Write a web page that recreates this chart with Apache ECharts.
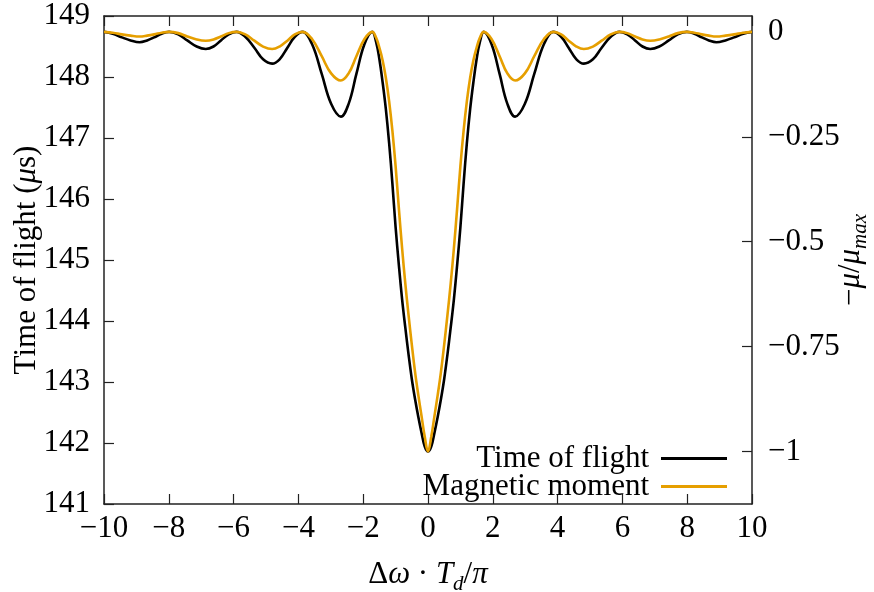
<!DOCTYPE html>
<html><head><meta charset="utf-8">
<script src="https://cdn.jsdelivr.net/npm/echarts@6/dist/echarts.min.js"></script>
<style>html,body{margin:0;padding:0;background:#fff}#c{width:874px;height:592px}</style>
</head><body><div id="c"></div>
<script>
const xValues = [-10, -9.73, -9.45, -9.18, -8.9, -8.67, -8.45, -8.22, -7.99, -7.71, -7.43, -7.14, -6.86, -6.62, -6.39, -6.15, -5.91, -5.64, -5.36, -5.09, -4.81, -4.58, -4.34, -4.11, -3.87, -3.58, -3.28, -2.99, -2.69, -2.45, -2.21, -1.96, -1.72, -1.6, -1.5, -1.4, -1.3, -1.2, -1.1, -1, -0.9, -0.8, -0.7, -0.6, -0.5, -0.4, -0.3, -0.2, -0.1,
  0,
  0.1, 0.2, 0.3, 0.4, 0.5, 0.6, 0.7, 0.8, 0.9, 1, 1.1, 1.2, 1.3, 1.4, 1.5, 1.6, 1.72, 1.96, 2.21, 2.45, 2.69, 2.99, 3.28, 3.58, 3.87, 4.11, 4.34, 4.58, 4.81, 5.09, 5.36, 5.64, 5.91, 6.15, 6.39, 6.62, 6.86, 7.14, 7.43, 7.71, 7.99, 8.22, 8.45, 8.67, 8.9, 9.18, 9.45, 9.73, 10];

const timeOfFlight = [148.74, 148.71, 148.65, 148.60, 148.57, 148.60, 148.65, 148.71, 148.74, 148.70, 148.60, 148.50, 148.46, 148.50, 148.60, 148.70, 148.74, 148.66, 148.48, 148.29, 148.22, 148.29, 148.48, 148.66, 148.74, 148.54, 148.05, 147.56, 147.35, 147.56, 148.05, 148.54, 148.74, 148.57, 148.29, 147.91, 147.47, 146.92, 146.26, 145.54, 144.92, 144.36, 143.89, 143.45, 143.05, 142.72, 142.43, 142.17, 141.94,
  141.86,
  141.94, 142.17, 142.43, 142.72, 143.05, 143.45, 143.89, 144.36, 144.92, 145.54, 146.26, 146.92, 147.47, 147.91, 148.29, 148.57, 148.74, 148.54, 148.05, 147.56, 147.35, 147.56, 148.05, 148.54, 148.74, 148.66, 148.48, 148.29, 148.22, 148.29, 148.48, 148.66, 148.74, 148.70, 148.60, 148.50, 148.46, 148.50, 148.60, 148.70, 148.74, 148.71, 148.65, 148.60, 148.57, 148.60, 148.65, 148.71, 148.74];

const magneticMoment = [0, -0.002, -0.006, -0.009, -0.011, -0.009, -0.006, -0.002, 0, -0.003, -0.011, -0.018, -0.021, -0.018, -0.011, -0.003, 0, -0.006, -0.021, -0.035, -0.041, -0.035, -0.021, -0.006, 0, -0.017, -0.058, -0.099, -0.116, -0.099, -0.058, -0.017, 0, -0.014, -0.038, -0.068, -0.11, -0.165, -0.235, -0.32, -0.42, -0.515, -0.60, -0.675, -0.745, -0.81, -0.865, -0.915, -0.965,
  -1,
  -0.965, -0.915, -0.865, -0.81, -0.745, -0.675, -0.60, -0.515, -0.42, -0.32, -0.235, -0.165, -0.11, -0.068, -0.038, -0.014, 0, -0.017, -0.058, -0.099, -0.116, -0.099, -0.058, -0.017, 0, -0.006, -0.021, -0.035, -0.041, -0.035, -0.021, -0.006, 0, -0.003, -0.011, -0.018, -0.021, -0.018, -0.011, -0.003, 0, -0.002, -0.006, -0.009, -0.011, -0.009, -0.006, -0.002, 0];

const rightTicks = [0, -0.25, -0.5, -0.75, -1];
const seriesNames = ['Time of flight', 'Magnetic moment'];

const FONT = 'Liberation Serif';
const FS = 31;
const minus = v => String(v).replace('-', '\u2212');
const axisColor = '#222';

const chart = echarts.init(document.getElementById('c'), null, {renderer: 'canvas'});
const richBase = {
  r: {fontFamily: FONT, fontSize: FS, color: '#000', lineHeight: 40, verticalAlign: 'middle'},
  i: {fontFamily: FONT, fontSize: FS, color: '#000', fontStyle: 'italic', lineHeight: 40, verticalAlign: 'middle'},
  s: {fontFamily: FONT, fontSize: 21, color: '#000', fontStyle: 'italic', lineHeight: 14, verticalAlign: 'bottom'}
};
chart.setOption({
  animation: false,
  backgroundColor: '#fff',
  grid: {left: 104, right: 122, top: 16, bottom: 88, containLabel: false, outerBoundsMode: 'none'},
  legend: {
    orient: 'vertical', right: 147, top: 443, align: 'right', padding: 0,
    itemWidth: 66, itemHeight: 3, itemGap: -3, icon: 'rect',
    textStyle: {fontFamily: FONT, fontSize: FS, color: '#000', lineHeight: 30, padding: [0, 7, 0, 0]},
    data: seriesNames
  },
  xAxis: [{
    type: 'value', min: -10, max: 10, interval: 2, position: 'bottom',
    axisLine: {show: true, onZero: false, lineStyle: {color: axisColor, width: 1.5}},
    axisTick: {show: true, inside: true, length: 10, lineStyle: {color: axisColor, width: 1.2}},
    axisLabel: {fontFamily: FONT, fontSize: FS, color: '#000', margin: 9, formatter: minus},
    splitLine: {show: false},
    name: '{r|\u0394}{i|\u03c9}{r| \u00b7 }{i|T}{s|d}{r|/}{i|\u03c0}',
    nameLocation: 'middle', nameGap: 51, nameMoveOverlap: false,
    nameTextStyle: {rich: richBase}
  }, {
    type: 'value', min: -10, max: 10, interval: 2, position: 'top',
    axisLine: {show: true, onZero: false, lineStyle: {color: axisColor, width: 1.5}},
    axisTick: {show: true, inside: true, length: 10, lineStyle: {color: axisColor, width: 1.2}},
    axisLabel: {show: false},
    splitLine: {show: false}
  }],
  yAxis: [{
    type: 'value', min: 141, max: 149, interval: 1, position: 'left',
    axisLine: {show: true, onZero: false, lineStyle: {color: axisColor, width: 1.5}},
    axisTick: {show: true, inside: true, length: 10, lineStyle: {color: axisColor, width: 1.2}},
    axisLabel: {fontFamily: FONT, fontSize: FS, color: '#000', margin: 14},
    splitLine: {show: false},
    name: '{r|Time of flight (}{i|\u03bc}{r|s)}',
    nameLocation: 'middle', nameRotate: 90, nameGap: 57, nameMoveOverlap: false,
    nameTextStyle: {rich: richBase}
  }, {
    type: 'value', min: -1.125, max: 0.0378, position: 'right',
    axisLine: {show: true, onZero: false, lineStyle: {color: axisColor, width: 1.5}},
    axisTick: {show: true, inside: true, length: 10, customValues: rightTicks, lineStyle: {color: axisColor, width: 1.2}},
    axisLabel: {fontFamily: FONT, fontSize: FS, color: '#000', margin: 16, customValues: rightTicks, formatter: minus},
    splitLine: {show: false},
    name: '{r|\u2212}{i|\u03bc}{r|/}{i|\u03bc}{s|max}',
    nameLocation: 'middle', nameRotate: 90, nameGap: 79, nameMoveOverlap: false,
    nameTextStyle: {rich: richBase}
  }],
  series: [{
    name: seriesNames[0], type: 'line', xAxisIndex: 0, yAxisIndex: 0,
    symbol: 'none', smooth: 0.4,
    lineStyle: {color: '#000', width: 2.6},
    itemStyle: {color: '#000'},
    data: xValues.map((x, i) => [x, timeOfFlight[i]])
  }, {
    name: seriesNames[1], type: 'line', xAxisIndex: 0, yAxisIndex: 1,
    symbol: 'none', smooth: 0.4,
    lineStyle: {color: '#E69F00', width: 2.6},
    itemStyle: {color: '#E69F00'},
    data: xValues.map((x, i) => [x, magneticMoment[i]])
  }]
});
</script>
</body></html>
